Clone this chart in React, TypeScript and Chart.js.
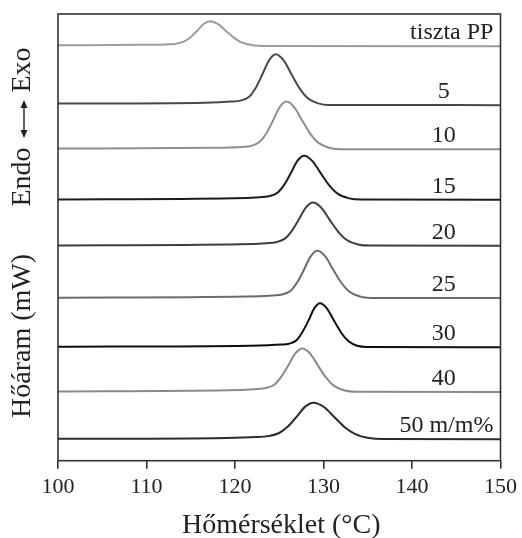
import React, { useEffect, useRef } from 'react';
import { Chart, registerables } from 'chart.js';

Chart.register(...registerables);

// ---- data ----
const sampleLabels = ['tiszta PP', '5', '10', '15', '20', '25', '30', '40', '50 m/m%'];
// vertical offset (stacking) of each curve, arbitrary units
const baselines = [92.8, 79.6, 69.7, 58.4, 48.1, 36.4, 25.4, 15.4, 4.8];

const tPP = [100, 109.2, 112.2, 113.2, 114.2, 114.95, 115.7, 116.45, 117.2, 118.1, 119.0, 119.9, 120.8, 122.0, 123.2, 150];
const vPP = [0.2, 0.3, 0.4, 0.5, 1.0, 1.95, 3.4, 4.95, 5.6, 4.93, 3.36, 1.85, 0.78, 0.2, 0.05, 0];

const t5 = [100, 116.6, 119.6, 120.6, 121.6, 122.35, 123.1, 123.85, 124.6, 125.5, 126.4, 127.3, 128.2, 129.4, 130.6, 150];
const v5 = [0.35, 0.55, 0.8, 1.0, 1.9, 3.9, 6.9, 10.05, 11.4, 10.03, 6.84, 3.76, 1.6, 0.4, 0.05, 0];

const t10 = [100, 117.8, 120.8, 121.8, 122.8, 123.55, 124.3, 125.05, 125.8, 126.7, 127.6, 128.5, 129.4, 130.6, 131.8, 150];
const v10 = [0.2, 0.35, 0.55, 0.75, 1.7, 3.6, 6.45, 9.45, 10.7, 9.42, 6.42, 3.53, 1.5, 0.35, 0.05, 0];

const t15 = [100, 119.8, 122.8, 123.8, 124.8, 125.55, 126.3, 127.05, 127.8, 128.75, 129.7, 130.65, 131.6, 132.9, 134.2, 150];
const v15 = [0.1, 0.35, 0.6, 0.8, 1.6, 3.35, 5.95, 8.7, 9.85, 8.67, 5.91, 3.25, 1.38, 0.32, 0.05, 0];

const t20 = [100, 120.6, 123.6, 124.6, 125.6, 126.4, 127.2, 128.0, 128.8, 129.75, 130.7, 131.65, 132.6, 133.9, 135.2, 150];
const v20 = [0.1, 0.35, 0.6, 0.8, 1.55, 3.3, 5.85, 8.55, 9.7, 8.54, 5.82, 3.2, 1.36, 0.31, 0.05, 0];

const t25 = [100, 121.3, 124.3, 125.3, 126.3, 127.05, 127.8, 128.55, 129.3, 130.2, 131.1, 132.0, 132.9, 134.1, 135.3, 150];
const v25 = [0.1, 0.35, 0.6, 0.8, 1.65, 3.6, 6.4, 9.35, 10.6, 9.33, 6.36, 3.5, 1.48, 0.34, 0.05, 0];

const t30 = [100, 121.6, 125.2, 126.1, 126.95, 127.6, 128.3, 128.95, 129.6, 130.4, 131.2, 132.0, 132.8, 133.8, 134.9, 150];
const v30 = [0.1, 0.35, 0.6, 0.8, 1.55, 3.35, 5.95, 8.7, 9.85, 8.67, 5.91, 3.25, 1.38, 0.32, 0.05, 0];

const t40 = [100, 119.2, 122.2, 123.3, 124.4, 125.2, 126.0, 126.8, 127.6, 128.5, 129.4, 130.3, 131.2, 132.4, 133.6, 150];
const v40 = [0.1, 0.35, 0.6, 0.8, 1.55, 3.3, 5.85, 8.55, 9.7, 8.54, 5.82, 3.2, 1.36, 0.31, 0.05, 0];

const t50 = [100, 118.9, 122.4, 123.7, 125.0, 126.0, 126.95, 127.9, 128.9, 130.05, 131.25, 132.4, 133.6, 135.15, 136.7, 150];
const v50 = [0.1, 0.3, 0.5, 0.7, 1.4, 2.9, 5.0, 7.25, 8.2, 7.22, 4.92, 2.7, 1.15, 0.27, 0.05, 0];

const temps = [tPP, t5, t10, t15, t20, t25, t30, t40, t50];
const values = [vPP, v5, v10, v15, v20, v25, v30, v40, v50];

const xMin = 100;
const xMax = 150;
const xStep = 10;
const xTitle = 'Hőmérséklet (°C)';
const yTitle = 'Hőáram (mW)';
const endoText = 'Endo';
const exoText = 'Exo';

// ---- styles ----
const lineColors = ['#9c9c9c', '#484848', '#8e8e8e', '#1c1c1c', '#3e3e3e', '#6c6c6c', '#0e0e0e', '#8a8a8a', '#2c2c2c'];
const FONT = '"Liberation Serif", "Times New Roman", serif';
const INK = '#222222';

const decorPlugin = {
  id: 'decor',
  afterDraw(chart: any) {
    const { ctx, chartArea, scales } = chart;
    const xs = scales.x;
    const ys = scales.y;
    ctx.save();
    // frame
    ctx.strokeStyle = '#333333';
    ctx.lineWidth = 1.6;
    ctx.strokeRect(chartArea.left, chartArea.top, chartArea.right - chartArea.left, chartArea.bottom - chartArea.top);

    // curve labels
    ctx.fillStyle = INK;
    ctx.font = `24px ${FONT}`;
    ctx.textBaseline = 'middle';
    sampleLabels.forEach((lab, i) => {
      const y = ys.getPixelForValue(baselines[i]) - 13.5;
      if (i === 0 || i === sampleLabels.length - 1) {
        ctx.textAlign = 'right';
        ctx.fillText(lab, xs.getPixelForValue(149.2), y);
      } else {
        ctx.textAlign = 'center';
        ctx.fillText(lab, xs.getPixelForValue(143.6), y);
      }
    });

    // x title
    ctx.font = `28px ${FONT}`;
    ctx.textAlign = 'center';
    ctx.textBaseline = 'middle';
    ctx.fillText(xTitle, (chartArea.left + chartArea.right) / 2 + 2, 526);

    // y title pieces (rotated)
    const tx = 23;
    const drawRot = (text: string, cy: number) => {
      ctx.save();
      ctx.translate(tx, cy);
      ctx.rotate(-Math.PI / 2);
      ctx.textAlign = 'center';
      ctx.textBaseline = 'middle';
      ctx.fillText(text, 0, 0);
      ctx.restore();
    };
    drawRot(yTitle, 336);
    drawRot(endoText, 177);
    drawRot(exoText, 70);

    // double arrow
    const a1 = 100;
    const a2 = 138;
    ctx.strokeStyle = INK;
    ctx.lineWidth = 1.4;
    ctx.beginPath();
    ctx.moveTo(tx + 1, a1 + 6);
    ctx.lineTo(tx + 1, a2 - 6);
    ctx.stroke();
    ctx.fillStyle = INK;
    ctx.beginPath();
    ctx.moveTo(tx + 1, a1);
    ctx.lineTo(tx - 2.5, a1 + 8);
    ctx.lineTo(tx + 4.5, a1 + 8);
    ctx.closePath();
    ctx.fill();
    ctx.beginPath();
    ctx.moveTo(tx + 1, a2);
    ctx.lineTo(tx - 2.5, a2 - 8);
    ctx.lineTo(tx + 4.5, a2 - 8);
    ctx.closePath();
    ctx.fill();
    ctx.restore();
  },
};

export default function App() {
  const ref = useRef<HTMLCanvasElement | null>(null);
  useEffect(() => {
    document.body.style.margin = '0';
    const canvas = ref.current;
    if (!canvas) return;
    const datasets = temps.map((ts, i) => ({
      label: sampleLabels[i],
      data: ts.map((t, j) => ({ x: t, y: baselines[i] + values[i][j] })),
      borderColor: lineColors[i],
      borderWidth: 2,
      pointRadius: 0,
      fill: false,
      cubicInterpolationMode: 'monotone' as const,
    }));
    const chart = new Chart(canvas, {
      type: 'line',
      data: { datasets },
      options: {
        responsive: false,
        animation: false,
        devicePixelRatio: 1,
        layout: { padding: { left: 58, right: 16, top: 14, bottom: 0 } },
        plugins: { legend: { display: false }, tooltip: { enabled: false } },
        scales: {
          x: {
            type: 'linear',
            min: xMin,
            max: xMax,
            afterFit: (s: any) => {
              s.height = 77.3;
            },
            ticks: {
              stepSize: xStep,
              color: INK,
              font: { family: FONT, size: 22 },
              padding: 5,
              maxRotation: 0,
            },
            grid: {
              drawOnChartArea: false,
              drawTicks: true,
              tickLength: 8,
              color: '#333333',
              lineWidth: 1.6,
            },
            border: { display: false },
          },
          y: { display: false, min: 0, max: 100 },
        },
      },
      plugins: [decorPlugin],
    });
    return () => chart.destroy();
  }, []);
  return (
    <div style={{ width: 522, height: 538 }}>
      <canvas ref={ref} width={522} height={538} />
    </div>
  );
}
